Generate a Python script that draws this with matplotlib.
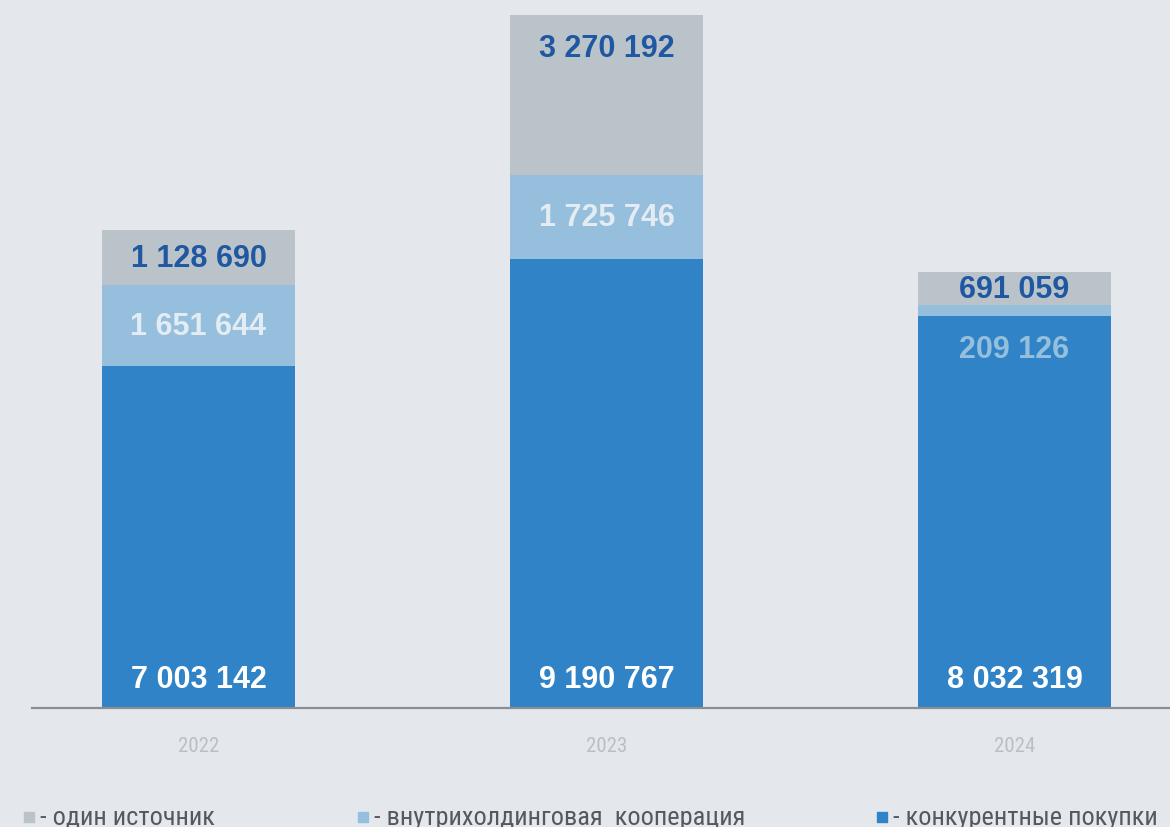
import matplotlib
matplotlib.use("Agg")
import matplotlib.pyplot as plt
from matplotlib.patches import Rectangle

years = ["2022", "2023", "2024"]
competitive = [7003142, 9190767, 8032319]
intra_holding = [1651644, 1725746, 209126]
single_source = [1128690, 3270192, 691059]
legend_labels = ["- один источник", "- внутрихолдинговая  кооперация", "- конкурентные покупки"]

BG = "#e4e8ed"
C_BLUE = "#2f83c6"
C_LIGHT = "#95bfdc"
C_GRAY = "#bbc3ca"
NARROW = ["Roboto Condensed", "PT Sans Narrow", "Liberation Sans"]

def fmt(v):
    return f"{v:,}".replace(",", " ")

fig = plt.figure(figsize=(11.7, 8.28), dpi=100, facecolor=BG)
ax = fig.add_axes([32 / 1170, 119 / 828, 1138 / 1170, 693 / 828])
ax.set_facecolor(BG)

x = [0, 1, 2]
w = 0.473
bottom2 = [a + b for a, b in zip(competitive, intra_holding)]
tops = [a + b for a, b in zip(bottom2, single_source)]

ax.bar(x, competitive, w, color=C_BLUE)
ax.bar(x, intra_holding, w, bottom=competitive, color=C_LIGHT)
ax.bar(x, single_source, w, bottom=bottom2, color=C_GRAY)

ax.set_xlim(-0.408, 2.381)
ax.set_ylim(0, max(tops))

lab_font = dict(family=["Liberation Sans", "DejaVu Sans"], fontsize=22, fontweight="bold", ha="center")
for i in x:
    ax.text(i, 0.6e6, fmt(competitive[i]), color="white", va="center", **lab_font)
    mid = competitive[i] + intra_holding[i] / 2
    if intra_holding[i] > 0.8e6:
        ax.text(i, mid, fmt(intra_holding[i]), color="#e3ebf3", va="center", **lab_font)
    else:
        # thin segment: value sits just under it, inside the blue part
        ax.text(i, competitive[i] - 0.68e6, fmt(intra_holding[i]), color=C_LIGHT, va="center", **lab_font)
    gmid = max(bottom2[i] + single_source[i] / 2, tops[i] - 0.68e6)
    ax.text(i, gmid, fmt(single_source[i]), color="#1f57a0", va="center", **lab_font)

for s in ["top", "right", "left"]:
    ax.spines[s].set_visible(False)
ax.spines["bottom"].set_color("#8a8d91")
ax.spines["bottom"].set_linewidth(1.6)
ax.set_yticks([])
ax.set_xticks(x)
ax.set_xticklabels(years, color="#b9bfc6", fontsize=15, family=NARROW)
ax.tick_params(axis="x", length=0, pad=20)

# legend along the bottom
leg_x = [24, 358, 877]
leg_colors = [C_GRAY, C_LIGHT, C_BLUE]
for lx, col, txt in zip(leg_x, leg_colors, legend_labels):
    fig.patches.append(Rectangle((lx / 1170, 5 / 828), 10 / 1170, 10 / 828,
                                 transform=fig.transFigure, color=col))
    fig.text((lx + 16) / 1170, 10 / 828, txt, color="#55595e", fontsize=19,
             va="center", ha="left", family=NARROW)

fig.savefig("out.png", dpi=100, facecolor=BG)
